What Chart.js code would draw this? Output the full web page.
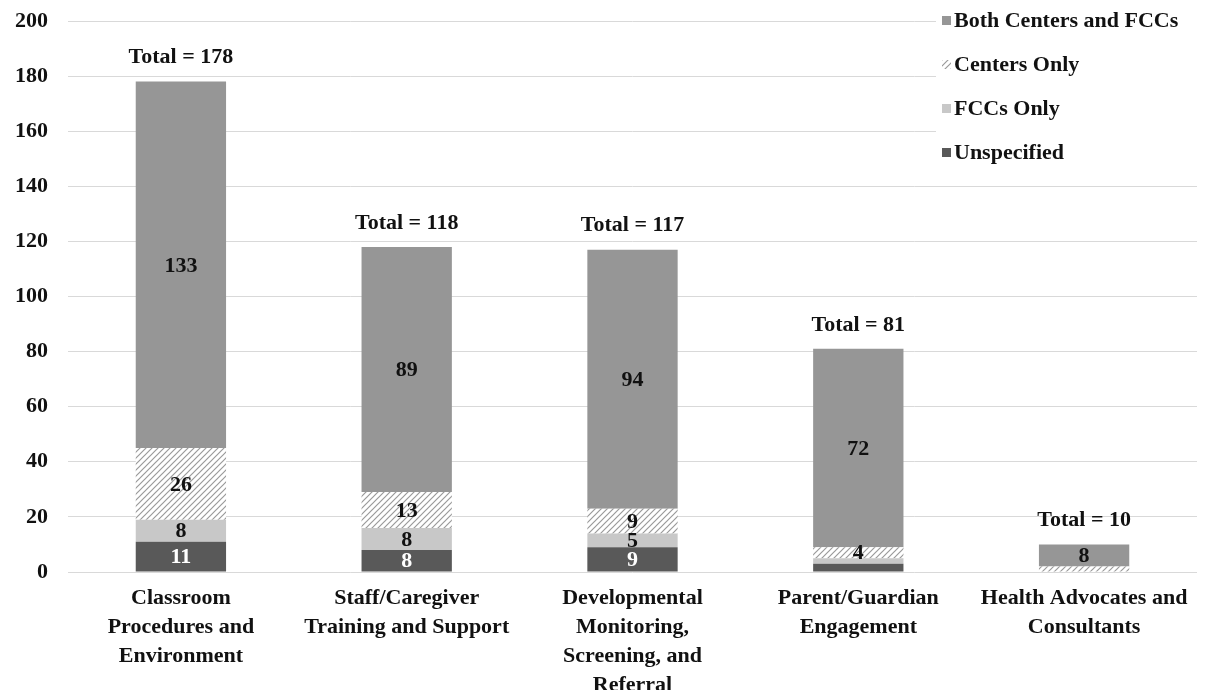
<!DOCTYPE html>
<html>
<head>
<meta charset="utf-8">
<script src="https://cdn.jsdelivr.net/npm/chart.js@4/dist/chart.umd.min.js"></script>
<style>
  html, body { margin: 0; padding: 0; background: #fff; }
  #wrap { width: 1206px; height: 690px; }
</style>
</head>
<body>
<div id="wrap"><canvas id="resultChart" width="1206" height="690"></canvas></div>
<script>
// Categories
const categories = [
  ["Classroom", "Procedures and", "Environment"],
  ["Staff/Caregiver", "Training and Support"],
  ["Developmental", "Monitoring,", "Screening, and", "Referral"],
  ["Parent/Guardian", "Engagement"],
  ["Health Advocates and", "Consultants"]
];

// Series values (bottom to top)
const unspecified = [11, 8, 9, 3, 0];
const fccsOnly = [8, 8, 5, 2, 0];
const centersOnly = [26, 13, 9, 4, 2];
const bothCenters = [133, 89, 94, 72, 8];
const totals = [178, 118, 117, 81, 10];

const yTicks = [0, 20, 40, 60, 80, 100, 120, 140, 160, 180, 200];

const serif = '"Liberation Serif", "Times New Roman", serif';
const fontSize = 22;

// hatch pattern for Centers Only
function makeHatch() {
  const c = document.createElement("canvas");
  c.width = 6; c.height = 6;
  const g = c.getContext("2d");
  g.fillStyle = "#ffffff";
  g.fillRect(0, 0, 6, 6);
  g.strokeStyle = "#9a9a9a";
  g.lineWidth = 1.2;
  g.beginPath();
  g.moveTo(0, 6); g.lineTo(6, 0);
  g.moveTo(-3, 3); g.lineTo(3, -3);
  g.moveTo(3, 9); g.lineTo(9, 3);
  g.stroke();
  return g.createPattern(c, "repeat");
}
const ctx = document.getElementById("resultChart").getContext("2d");
const hatch = makeHatch();

// Values inside segments + totals above bars
const labelPlugin = {
  id: "labelPlugin",
  afterDatasetsDraw(chart) {
    const c = chart.ctx;
    c.save();
    c.textAlign = "center";
    c.textBaseline = "middle";
    c.font = "bold " + fontSize + "px " + serif;
    chart.data.datasets.forEach((ds, di) => {
      const meta = chart.getDatasetMeta(di);
      meta.data.forEach((bar, i) => {
        const v = ds.data[i];
        if (v < 4) return;
        c.fillStyle = di === 0 ? "#ffffff" : "#111111";
        c.fillText(String(v), bar.x, (bar.y + bar.base) / 2 + 1);
      });
    });
    const y = chart.scales.y;
    const top = chart.getDatasetMeta(0).data;
    totals.forEach((t, i) => {
      c.fillStyle = "#111111";
      c.fillText("Total = " + t, top[i].x, y.getPixelForValue(t) - 24);
    });
    c.restore();
  }
};

// Legend drawn inside the plot, top right
const legendPlugin = {
  id: "legendPlugin",
  afterDraw(chart) {
    const c = chart.ctx;
    const items = [
      ["Both Centers and FCCs", "#969696"],
      ["Centers Only", hatch],
      ["FCCs Only", "#c8c8c8"],
      ["Unspecified", "#595959"]
    ];
    c.save();
    c.fillStyle = "#ffffff";
    c.fillRect(936, 4, 270, 166);
    c.font = "bold " + fontSize + "px " + serif;
    c.textBaseline = "middle";
    c.textAlign = "left";
    items.forEach((it, k) => {
      const yy = 20 + k * 44;
      c.fillStyle = it[1];
      c.fillRect(942, yy - 4, 9, 9);
      c.fillStyle = "#111111";
      c.fillText(it[0], 954, yy + 1);
    });
    c.restore();
  }
};

const resultChart = new Chart(ctx, {
  type: "bar",
  data: {
    labels: categories,
    datasets: [
      { label: "Unspecified", data: unspecified, backgroundColor: "#595959" },
      { label: "FCCs Only", data: fccsOnly, backgroundColor: "#c8c8c8" },
      { label: "Centers Only", data: centersOnly, backgroundColor: hatch },
      { label: "Both Centers and FCCs", data: bothCenters, backgroundColor: "#969696" }
    ]
  },
  options: {
    responsive: false,
    animation: false,
    layout: { padding: { top: 21, right: 9, left: 0, bottom: 0 } },
    datasets: { bar: { barPercentage: 0.4, categoryPercentage: 1.0 } },
    plugins: {
      legend: { display: false },
      tooltip: { enabled: false }
    },
    scales: {
      x: {
        stacked: true,
        grid: { display: false, drawTicks: false },
        border: { display: false },
        ticks: {
          color: "#111111",
          padding: 12,
          maxRotation: 0,
          autoSkip: false,
          font: { family: serif, size: fontSize, weight: "bold", lineHeight: 1.32 }
        },
        afterFit(s) { s.height = 118; }
      },
      y: {
        stacked: true,
        min: 0,
        max: 200,
        afterBuildTicks(s) { s.ticks = yTicks.map(v => ({ value: v })); },
        grid: { color: "#d9d9d9", lineWidth: 1, drawTicks: false },
        border: { display: false },
        ticks: {
          color: "#111111",
          padding: 20,
          font: { family: serif, size: fontSize, weight: "bold" }
        },
        afterFit(s) { s.width = 68; s.paddingTop = 0; s.paddingBottom = 0; }
      }
    }
  },
  plugins: [labelPlugin, legendPlugin]
});
</script>
</body>
</html>
